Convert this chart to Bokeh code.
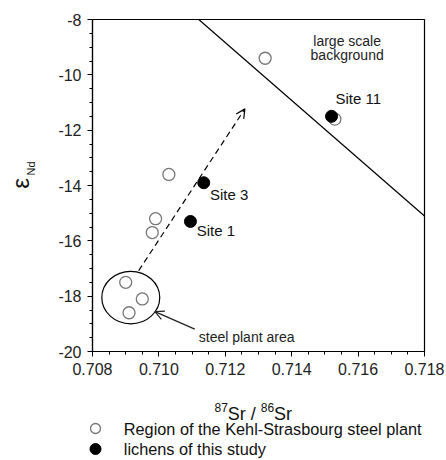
import numpy as np
from bokeh.plotting import figure
from bokeh.layouts import column, row
from bokeh.models import (FixedTicker, NumeralTickFormatter, Arrow, OpenHead, ColumnDataSource)
from bokeh.core.properties import value
from bokeh.embed import file_html
from bokeh.resources import INLINE

# ---- data ----
region_sr = [0.7132, 0.7153, 0.7103, 0.7099, 0.7098, 0.7090, 0.7095, 0.7091]
region_nd = [-9.4, -11.6, -13.6, -15.2, -15.7, -17.5, -18.1, -18.6]

lichen_sr = [0.7152, 0.71135, 0.71095]
lichen_nd = [-11.5, -13.9, -15.3]
lichen_names = ["Site 11", "Site 3", "Site 1"]
lichen_label_sr = [0.71532, 0.71154, 0.71114]
lichen_label_nd = [-10.87, -14.33, -15.61]

x_ticks = [0.708, 0.710, 0.712, 0.714, 0.716, 0.718]
y_ticks = [-20, -18, -16, -14, -12, -10, -8]

legend_labels = ["Region of the Kehl-Strasbourg steel plant", "lichens of this study"]

# annotation geometry (data units)
bg_line_sr = [0.7112, 0.718]
bg_line_nd = [-8.0, -15.1]
trend_start = (0.70939, -17.08)
trend_end = (0.71259, -11.23)
plant_ell = dict(x=0.709153, y=-18.05, w=0.001745, h=1.90)
plant_arrow_start = (0.71108, -19.19)
plant_arrow_end = (0.70988, -18.56)

FONT = "Liberation Sans"
TOP_H = 390
BOT_H = 70
EPS_W = 50


def bare(fig):
    fig.axis.visible = False
    fig.grid.visible = False
    fig.outline_line_color = None
    fig.background_fill_color = "white"
    fig.border_fill_color = "white"
    fig.min_border = 0


# ---- main plot ----
p = figure(width=446 - EPS_W, height=TOP_H, x_range=(0.708, 0.718), y_range=(-20, -8),
           output_backend="svg", toolbar_location=None,
           min_border_left=92 - EPS_W, min_border_right=22, min_border_top=19,
           min_border_bottom=TOP_H - 351)
p.grid.visible = False
p.outline_line_color = "black"
p.outline_line_width = 1.2
p.background_fill_color = "white"
p.border_fill_color = "white"

minor_x = [round(0.708 + 0.0005 * i, 4) for i in range(21)]
minor_y = [-20 + 0.5 * i for i in range(25)]
p.xaxis.ticker = FixedTicker(ticks=x_ticks, minor_ticks=minor_x)
p.yaxis.ticker = FixedTicker(ticks=y_ticks, minor_ticks=minor_y)
p.xaxis.formatter = NumeralTickFormatter(format="0.000")
p.yaxis.formatter = NumeralTickFormatter(format="0")

for ax in (p.xaxis, p.yaxis):
    ax.axis_line_color = "black"
    ax.axis_line_width = 1.2
    ax.major_tick_line_color = "black"
    ax.minor_tick_line_color = "black"
    ax.major_tick_in = 0
    ax.major_tick_out = 5
    ax.minor_tick_in = 0
    ax.minor_tick_out = 3
    ax.major_label_text_font = FONT
    ax.major_label_text_font_size = "16px"
    ax.major_label_text_color = "#222222"
    ax.major_label_standoff = 6

p.line(bg_line_sr, bg_line_nd, line_color="black", line_width=1.2)

p.add_layout(Arrow(x_start=trend_start[0], y_start=trend_start[1],
                   x_end=trend_end[0], y_end=trend_end[1],
                   line_dash="6 4", line_width=1.2, line_color="black",
                   end=OpenHead(size=9, line_width=1.2, line_color="black")))

p.ellipse(x=[plant_ell["x"]], y=[plant_ell["y"]], width=[plant_ell["w"]], height=[plant_ell["h"]],
          fill_color=None, line_color="black", line_width=1.2)
p.add_layout(Arrow(x_start=plant_arrow_start[0], y_start=plant_arrow_start[1],
                   x_end=plant_arrow_end[0], y_end=plant_arrow_end[1],
                   line_width=1.2, line_color="#222222",
                   end=OpenHead(size=9, line_width=1.2, line_color="#222222")))

p.scatter(region_sr, region_nd, size=12, marker="circle", fill_color="white",
          line_color="#777777", line_width=1.3)
p.scatter(lichen_sr, lichen_nd, size=12, marker="circle", fill_color="black",
          line_color="black")

src = ColumnDataSource(dict(x=lichen_label_sr, y=lichen_label_nd, t=lichen_names))
p.text(x="x", y="y", text="t", source=src, text_font=value(FONT), text_font_size="15px",
       text_align="left", text_baseline="middle", text_color="#111111")

p.text(x=[0.71567, 0.71567], y=[-8.76, -9.30], text=["large scale", "background"],
       text_font=value(FONT), text_font_size="14px", text_align="center",
       text_baseline="middle", text_color="#222222")
p.text(x=[0.7112], y=[-19.47], text=["steel plant area"], text_font=value(FONT),
       text_font_size="14px", text_align="left", text_baseline="middle", text_color="#222222")

# ---- y-axis title strip (epsilon_Nd) ----
e = figure(width=EPS_W, height=TOP_H, x_range=(0, EPS_W), y_range=(0, TOP_H),
           output_backend="svg", toolbar_location=None)
bare(e)
e.text(x=[20.0], y=[TOP_H - 192.5], text=["\u03b5"], angle=np.pi / 2,
       text_font=value(FONT), text_font_size="24px", text_align="center",
       text_baseline="middle", text_color="#111111")
e.text(x=[30.5], y=[TOP_H - 175.0], text=["Nd"], angle=np.pi / 2,
       text_font=value(FONT), text_font_size="11px", text_align="center",
       text_baseline="middle", text_color="#111111")

# ---- x-axis title + legend strip ----
q = figure(width=446, height=BOT_H, x_range=(0, 446), y_range=(0, BOT_H),
           output_backend="svg", toolbar_location=None)
bare(q)
main_base = 460 - 413.3
sup_base = 460 - 406.7
q.text(x=[214.0, 260.3], y=[sup_base, sup_base], text=["87", "86"],
       text_font=value(FONT), text_font_size="12px", text_align="left",
       text_baseline="alphabetic", text_color="#111111")
q.text(x=[227.3, 273.6], y=[main_base, main_base], text=["Sr /", "Sr"],
       text_font=value(FONT), text_font_size="18px", text_align="left",
       text_baseline="alphabetic", text_color="#111111")

row_y = [460 - 428.0, 460 - 448.5]
q.scatter([95], [row_y[0]], size=10, marker="circle", fill_color="white",
          line_color="#777777", line_width=1.3)
q.scatter([95], [row_y[1]], size=11, marker="circle", fill_color="black", line_color="black")
q.text(x=[123.3, 123.3], y=row_y, text=legend_labels, text_font=value(FONT),
       text_font_size="16.3px", text_align="left", text_baseline="middle", text_color="#111111")

layout = column(row(e, p, spacing=0), q, spacing=0)
open("out.html", "w").write(file_html(layout, INLINE))
